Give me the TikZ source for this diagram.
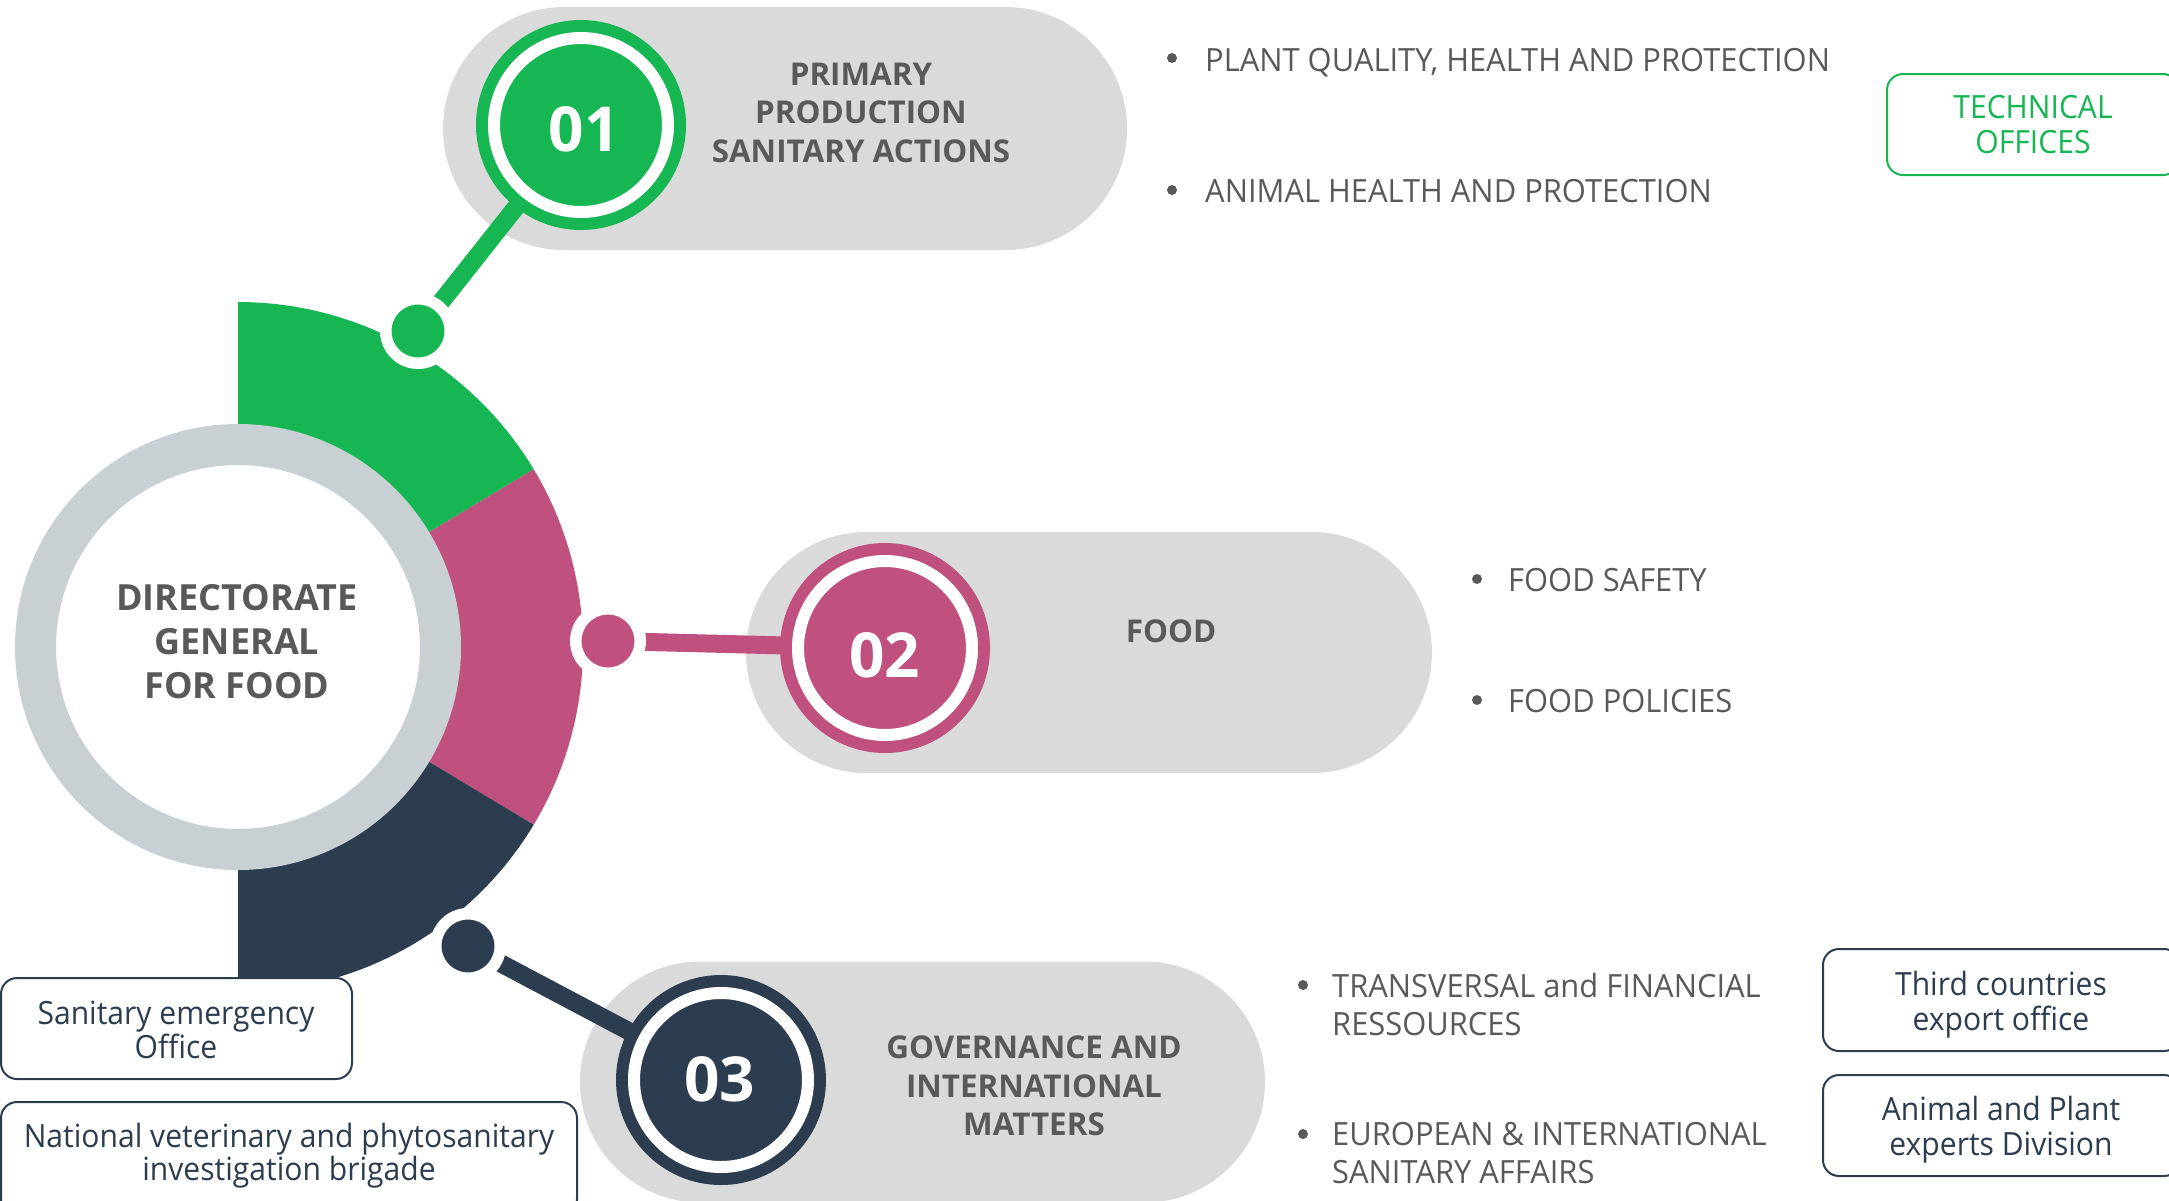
\documentclass[tikz,border=0pt]{standalone}
\usepackage{fontspec}
\setmainfont{Open Sans}
\newfontfamily\regf{Open Sans}[FakeStretch=0.94]
\newfontfamily\bulf{Open Sans}[FakeStretch=0.965]
\usetikzlibrary{shapes.misc}
\definecolor{cgreen}{RGB}{22,182,82}
\definecolor{cpink}{RGB}{192,80,126}
\definecolor{cnavy}{RGB}{45,61,80}
\definecolor{cring}{RGB}{201,208,212}
\definecolor{cpill}{RGB}{218,218,218}
\definecolor{ctext}{RGB}{89,89,89}
\pgfdeclarelayer{bg}
\pgfdeclarelayer{links}
\pgfsetlayers{bg,links,main}
\tikzset{
 pill/.style={rounded rectangle, fill=cpill, inner sep=0pt},
 bigc/.style={circle, inner sep=0pt, minimum size=210pt},
 dotc/.style={circle, inner sep=0pt, draw=white, line width=11.5pt, minimum size=64.5pt},
 link/.style={line width=18pt},
 num/.style={text=white, font=\bfseries\fontsize{62}{62}\selectfont, inner sep=0pt},
 ttl/.style={text=ctext, font=\bfseries\fontsize{31.4}{38}\selectfont, anchor=base, inner sep=0pt},
 ctr/.style={text=ctext, font=\bfseries\fontsize{36}{42}\selectfont, anchor=base, inner sep=0pt},
 bt/.style={text=ctext, font=\bulf\fontsize{32}{38}\selectfont, anchor=base west, inner sep=0pt},
 bul/.style={circle, fill=ctext, inner sep=0pt, minimum size=10pt},
 obox/.style={rectangle, rounded corners=16pt, line width=2pt, inner sep=0pt, fill=white},
 bxt/.style={text=cnavy, font=\regf\fontsize{32}{38}\selectfont, anchor=base, inner sep=0pt},
}
\begin{document}
\begin{tikzpicture}[x=1pt,y=-1pt]
\useasboundingbox (0,0) rectangle (2169,1200);
\coordinate (O) at (238,647);
\begin{pgfonlayer}{bg}
 \node[pill, minimum width=684pt, minimum height=243pt] (p1) at (785,128.5) {};
 \node[pill, minimum width=686pt, minimum height=241pt] (p2) at (1089,652.5) {};
 \node[pill, minimum width=685pt, minimum height=241pt] (p3) at (922.5,1082) {};
 \fill[cgreen] (O) -- ++(-90:345) arc[start angle=-90, end angle=-31, radius=345] -- cycle;
 \fill[cpink] (O) -- ++(-31:345) arc[start angle=-31, end angle=31, radius=345] -- cycle;
 \fill[cnavy] (O) -- ++(31:345) arc[start angle=31, end angle=90, radius=345] -- cycle;
 \draw[cring, line width=41pt, fill=white] (O) circle[radius=202.5];
\end{pgfonlayer}

% big numbered circles
\node[bigc, fill=cgreen] (c1) at (581,125) {};
\draw[white, line width=12pt] (c1.center) circle[radius=87];
\node[bigc, fill=cpink] (c2) at (885,648) {};
\draw[white, line width=12pt] (c2.center) circle[radius=87];
\node[bigc, fill=cnavy] (c3) at (721,1080) {};
\draw[white, line width=12pt] (c3.center) circle[radius=87];
\node[num] (n1) at (584,129) {01};
\node[num] (n2) at (884.5,655) {02};
\node[num] (n3) at (719.5,1079.5) {03};

% small dots on the ring
\node[dotc, fill=cgreen] (d1) at (418,331) {};
\node[dotc, fill=cpink] (d2) at (608,641) {};
\node[dotc, fill=cnavy] (d3) at (468,946) {};

\begin{pgfonlayer}{links}
 \draw[link, cgreen] (d1.center) -- (c1.center);
 \draw[link, cpink] (d2.center) -- (c2.center);
 \draw[link, cnavy] (d3.center) -- (c3.center);
\end{pgfonlayer}

% centre text
\node[ctr] (t0a) at (237,610) {DIRECTORATE};
\node[ctr] (t0b) at (237,654) {GENERAL};
\node[ctr] (t0c) at (237,698) {FOR FOOD};

% pill titles
\node[ttl] (t1a) at (861,85) {PRIMARY};
\node[ttl] (t1b) at (861,123.5) {PRODUCTION};
\node[ttl] (t1c) at (861,162) {SANITARY ACTIONS};
\node[ttl] (t2a) at (1171,642) {FOOD};
\node[ttl] (t3a) at (1034,1058) {GOVERNANCE AND};
\node[ttl] (t3b) at (1034,1097) {INTERNATIONAL};
\node[ttl] (t3c) at (1034,1135) {MATTERS};

% bullets
\node[bul] (b1) at (1172,58) {};
\node[bt] (s1) at (1205,71) {PLANT QUALITY, HEALTH AND PROTECTION};
\node[bul] (b2) at (1172,190) {};
\node[bt] (s2) at (1205,202) {ANIMAL HEALTH AND PROTECTION};
\node[bul] (b3) at (1477,579) {};
\node[bt] (s3) at (1508,591) {FOOD SAFETY};
\node[bul] (b4) at (1477,700) {};
\node[bt] (s4) at (1508,712) {FOOD POLICIES};
\node[bul] (b5) at (1303,985) {};
\node[bt] (s5a) at (1332,997) {TRANSVERSAL and FINANCIAL};
\node[bt] (s5b) at (1332,1035) {RESSOURCES};
\node[bul] (b6) at (1303,1134) {};
\node[bt] (s6a) at (1332,1145) {EUROPEAN \& INTERNATIONAL};
\node[bt] (s6b) at (1332,1183) {SANITARY AFFAIRS};

% boxes
\node[obox, draw=cgreen, minimum width=292pt, minimum height=101pt] (bto) at (2033,124.5) {};
\node[bxt, text=cgreen] (xto1) at (2033,118) {TECHNICAL};
\node[bxt, text=cgreen] (xto2) at (2033,153) {OFFICES};

\node[obox, draw=cnavy, minimum width=351pt, minimum height=101pt] (bA) at (176.5,1028.5) {};
\node[bxt] (xA1) at (176,1024) {Sanitary emergency};
\node[bxt] (xA2) at (176,1058) {Office};

\node[obox, draw=cnavy, minimum width=576pt, minimum height=113pt] (bB) at (289,1158.5) {};
\node[bxt] (xB1) at (289,1147) {National veterinary and phytosanitary};
\node[bxt] (xB2) at (289,1180) {investigation brigade};

\node[obox, draw=cnavy, minimum width=357pt, minimum height=102pt] (bC) at (2001.5,1000) {};
\node[bxt] (xC1) at (2001,995) {Third countries};
\node[bxt] (xC2) at (2001,1030) {export office};

\node[obox, draw=cnavy, minimum width=357pt, minimum height=101pt] (bD) at (2001.5,1125.5) {};
\node[bxt] (xD1) at (2001,1120) {Animal and Plant};
\node[bxt] (xD2) at (2001,1155) {experts Division};
\end{tikzpicture}
\end{document}
